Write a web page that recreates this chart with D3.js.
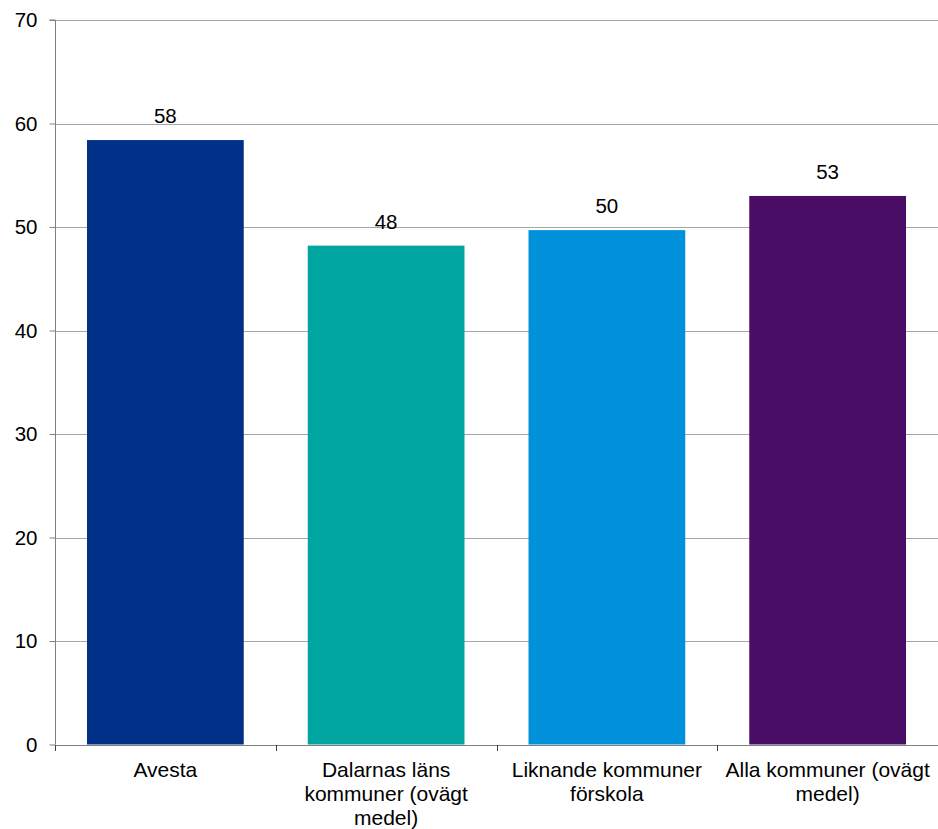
<!DOCTYPE html>
<html><head><meta charset="utf-8">
<script src="https://cdn.jsdelivr.net/npm/d3@7"></script>
<style>body{margin:0;background:#fff}svg{display:block}text{font-family:"Liberation Sans",Arial,sans-serif;fill:#000}</style>
</head><body>
<svg id="c" width="938" height="829"></svg>
<script>
const categories = ["Avesta", "Dalarnas läns kommuner (ovägt medel)", "Liknande kommuner förskola", "Alla kommuner (ovägt medel)"];
const categoryLines = [["Avesta"], ["Dalarnas läns", "kommuner (ovägt", "medel)"], ["Liknande kommuner", "förskola"], ["Alla kommuner (ovägt", "medel)"]];
const values = [58.4, 48.2, 49.7, 53.0];
const valueLabels = ["58", "48", "50", "53"];
const colors = ["#003087", "#00A5A0", "#0091DA", "#4A0D66"];
const yTicks = [0, 10, 20, 30, 40, 50, 60, 70];

const svg = d3.select("#c");
const m = {l: 55, r: 0, t: 20, b: 84.5};
const W = 938, H = 829;
const x = d3.scaleBand().domain(categories).range([m.l, W - m.r]).paddingInner(0.29).paddingOuter(0.145);
const xb = d3.scaleBand().domain(categories).range([m.l, W - m.r]).padding(0);
const y = d3.scaleLinear().domain([0, 70]).range([H - m.b, m.t]);

// gridlines
svg.append("g").selectAll("line").data(yTicks.filter(d => d > 0)).join("line")
  .attr("x1", m.l).attr("x2", W - m.r)
  .attr("y1", d => Math.round(y(d)) + 0.5).attr("y2", d => Math.round(y(d)) + 0.5)
  .attr("stroke", "#a6a6a6").attr("stroke-width", 1);

// bars
svg.append("g").selectAll("rect").data(categories).join("rect")
  .attr("x", d => x(d)).attr("width", x.bandwidth())
  .attr("y", (d, i) => y(values[i])).attr("height", (d, i) => y(0) - y(values[i]))
  .attr("fill", (d, i) => colors[i]);

// value labels
svg.append("g").selectAll("text").data(categories).join("text")
  .attr("x", d => x(d) + x.bandwidth() / 2)
  .attr("y", (d, i) => y(values[i]) - 17)
  .attr("text-anchor", "middle").attr("font-size", 20.5)
  .text((d, i) => valueLabels[i]);

// y axis
const yAxis = d3.axisLeft(y).tickValues(yTicks).tickSize(6).tickPadding(12);
const gy = svg.append("g").attr("transform", `translate(${m.l + 0.5},0)`).call(yAxis);
gy.select(".domain").attr("stroke", "#808080").attr("d", `M-6,${y(70)}H0V${y(0)}`);
gy.selectAll(".tick line").attr("stroke", "#808080");
gy.selectAll(".tick text").attr("font-size", 20.5).attr("font-family", '"Liberation Sans",Arial,sans-serif').attr("fill", "#000");

// x axis
const xTicks = categories.map(c => xb(c)).concat([W - m.r]);
const gx = svg.append("g");
gx.append("line").attr("x1", m.l).attr("x2", W).attr("y1", Math.round(y(0)) + 0.5).attr("y2", Math.round(y(0)) + 0.5).attr("stroke", "#808080");
gx.selectAll("line.t").data(xTicks).join("line").attr("class", "t")
  .attr("x1", d => Math.round(d) + 0.5).attr("x2", d => Math.round(d) + 0.5)
  .attr("y1", Math.round(y(0))).attr("y2", Math.round(y(0)) + 6).attr("stroke", "#404040");

const lab = svg.append("g").selectAll("text").data(categories).join("text")
  .attr("x", d => xb(d) + xb.bandwidth() / 2)
  .attr("y", y(0) + 32)
  .attr("text-anchor", "middle").attr("font-size", 21);
lab.each(function(d, i) {
  const t = d3.select(this);
  categoryLines[i].forEach((ln, j) => {
    t.append("tspan").attr("x", xb(d) + xb.bandwidth() / 2).attr("dy", j === 0 ? 0 : 24).text(ln);
  });
});
</script>
</body></html>
